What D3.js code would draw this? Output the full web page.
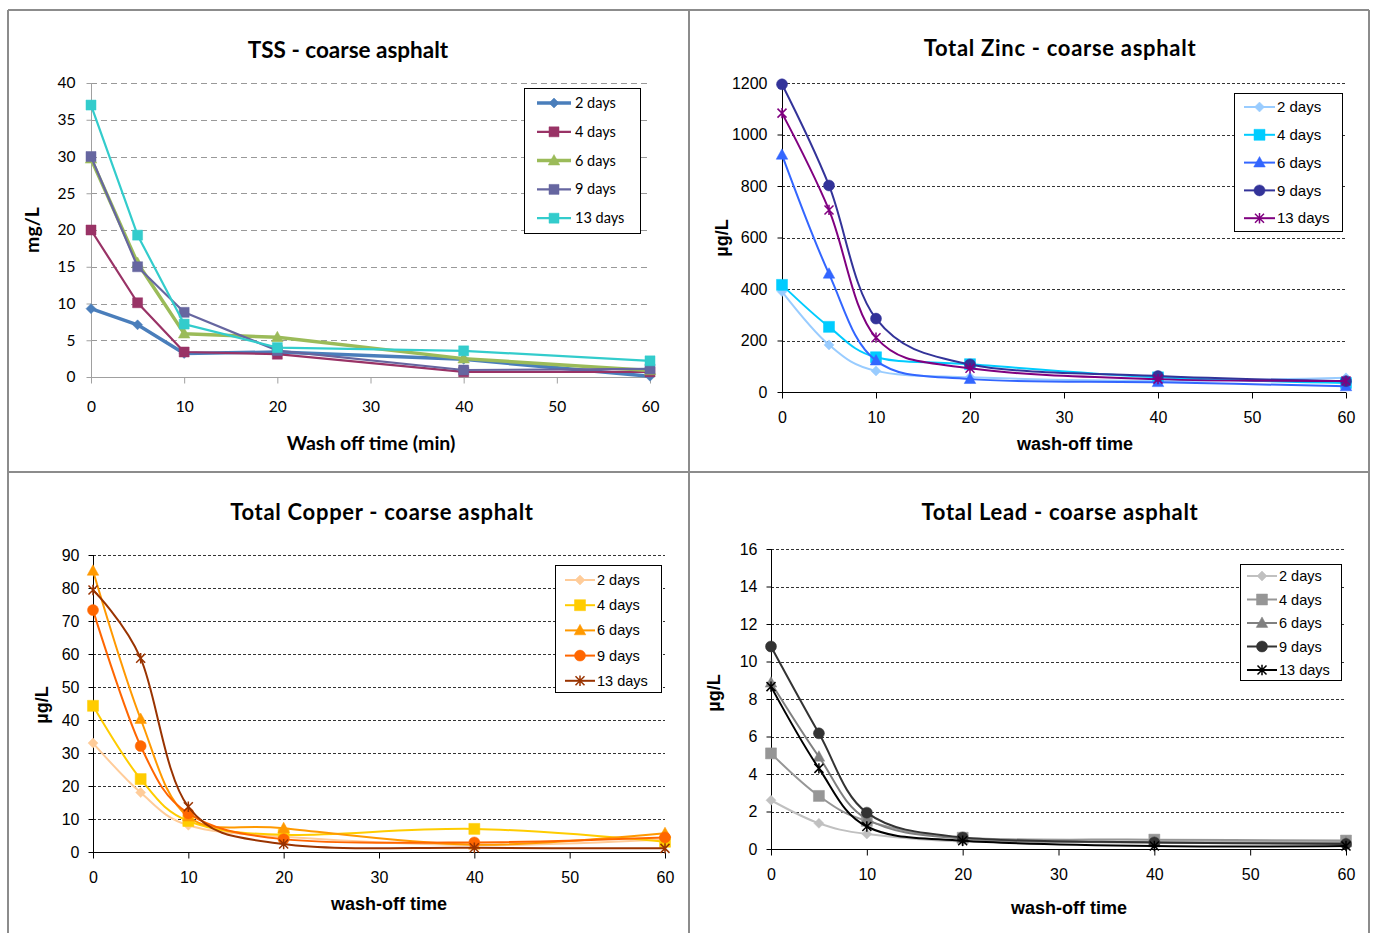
<!DOCTYPE html>
<html><head><meta charset="utf-8">
<script src="https://cdn.jsdelivr.net/npm/d3@7"></script>
<style>
html,body{margin:0;padding:0;background:#fff;}
svg{display:block;}
</style></head>
<body>
<svg id="chart" width="1375" height="933"></svg>
<script>
// ---------------- DATA ----------------
const xValues = [0, 5, 10, 20, 40, 60];
const seriesNames = ["2 days", "4 days", "6 days", "9 days", "13 days"];
const xTicks = [0, 10, 20, 30, 40, 50, 60];

const tssTicks = [0, 5, 10, 15, 20, 25, 30, 35, 40];
const tss2 = [9.3, 7.1, 3.2, 3.4, 2.4, 0.1];
const tss4 = [20, 10.1, 3.4, 3.1, 0.7, 0.7];
const tss6 = [29.7, 15.5, 5.9, 5.4, 2.5, 0.9];
const tss9 = [30, 15, 8.8, 3.6, 0.95, 1.1];
const tss13 = [37, 19.3, 7.2, 4.0, 3.56, 2.2];

const zincTicks = [0, 200, 400, 600, 800, 1000, 1200];
const zinc2 = [390, 183, 82, 57, 43, 55];
const zinc4 = [416, 253, 135, 108, 57, 35];
const zinc6 = [921, 459, 122, 50, 38, 22];
const zinc9 = [1195, 802, 285, 107, 62, 42];
const zinc13 = [1083, 707, 211, 92, 50, 43];

const copperTicks = [0, 10, 20, 30, 40, 50, 60, 70, 80, 90];
const copper2 = [33, 18, 8.1, 4.6, 2.1, 3.8];
const copper4 = [44.3, 22.1, 9.4, 5.2, 7.0, 3.1];
const copper6 = [85.2, 40.3, 10.7, 7.2, 2.2, 5.7];
const copper9 = [73.3, 32.1, 11.7, 3.9, 2.9, 4.4];
const copper13 = [79.4, 58.7, 13.7, 2.4, 1.3, 1.1];

const leadTicks = [0, 2, 4, 6, 8, 10, 12, 14, 16];
const lead2 = [2.6, 1.37, 0.8, 0.4, 0.4, 0.35];
const lead4 = [5.1, 2.83, 1.5, 0.6, 0.5, 0.45];
const lead6 = [8.87, 4.92, 1.6, 0.55, 0.35, 0.35];
const lead9 = [10.8, 6.17, 1.94, 0.62, 0.35, 0.27];
const lead13 = [8.66, 4.3, 1.2, 0.44, 0.16, 0.16];

// ---------------- STYLE ----------------
const svg = d3.select("#chart");
const titleFont = "Lato, 'Open Sans', sans-serif";

function markerPath(type, s) {
  switch (type) {
    case "diamond": return `M0,${-s}L${s},0L0,${s}L${-s},0Z`;
    case "square": return `M${-s},${-s}H${s}V${s}H${-s}Z`;
    case "triangle": return `M0,${-s * 1.1}L${s * 1.05},${s * 0.8}L${-s * 1.05},${s * 0.8}Z`;
    case "circle": return d3.symbol(d3.symbolCircle, Math.PI * s * s)();
    case "star": return `M${-s},${-s}L${s},${s}M${-s},${s}L${s},${-s}M0,${-s * 1.15}V${s * 1.15}`;
  }
}

const panels = [
  {
    title: "TSS - coarse asphalt", xTitle: "Wash off time (min)", yTitle: "mg/L",
    font: "Lato, 'Open Sans', sans-serif", titleSize: 22.5, titleSpacing: 0, tickSize: 15.5, axisTitleSize: 19.5,
    series: [tss2, tss4, tss6, tss9, tss13], yTicks: tssTicks, yMax: 40,
    xRange: [91, 650], yRange: [377, 83],
    titlePos: [348, 58], xTitlePos: [371, 450], yTitlePos: [32, 230],
    xTickY: 406, yTickX: 75,
    gridColor: "#999", gridDash: "6,4", axisColor: "#a0a0a0",
    colors: ["#4a7ebb", "#993366", "#9bbb59", "#6666a0", "#33cccc"],
    widths: [3.5, 2.2, 3.5, 2.2, 2.2],
    markers: ["diamond", "square", "triangle", "square", "square"],
    msize: [5, 5, 5.5, 5, 5],
    smooth: false,
    legend: { box: [524, 88, 116, 145], y0: 103, dy: 28.8, x1: 537, x2: 571, tx: 575, size: 14.5 }
  },
  {
    title: "Total Zinc - coarse asphalt", xTitle: "wash-off time", yTitle: "µg/L",
    font: "'Liberation Sans', Arial, sans-serif", titleSize: 22, titleSpacing: 0.7, tickSize: 16, axisTitleSize: 18,
    series: [zinc2, zinc4, zinc6, zinc9, zinc13], yTicks: zincTicks, yMax: 1200,
    xRange: [782, 1346], yRange: [392, 83],
    titlePos: [1060, 56], xTitlePos: [1075, 450], yTitlePos: [722, 238],
    xTickY: 417, yTickX: 767,
    gridColor: "#333", gridDash: "3,2", axisColor: "#000",
    colors: ["#99ccff", "#00ccff", "#3366ff", "#333399", "#800080"],
    widths: [2, 2, 2, 2, 2],
    markers: ["diamond", "square", "triangle", "circle", "star"],
    msize: [5, 5.5, 5.5, 5.5, 4.5],
    smooth: true,
    legend: { box: [1234, 93, 108, 138], y0: 107, dy: 27.8, x1: 1244, x2: 1275, tx: 1277, size: 15 }
  },
  {
    title: "Total Copper - coarse asphalt", xTitle: "wash-off time", yTitle: "µg/L",
    font: "'Liberation Sans', Arial, sans-serif", titleSize: 22, titleSpacing: 0.7, tickSize: 16, axisTitleSize: 18,
    series: [copper2, copper4, copper6, copper9, copper13], yTicks: copperTicks, yMax: 90,
    xRange: [93, 665], yRange: [852, 555],
    titlePos: [382, 520], xTitlePos: [389, 910], yTitlePos: [42, 705],
    xTickY: 877, yTickX: 79,
    gridColor: "#333", gridDash: "3,2", axisColor: "#000",
    colors: ["#ffcc99", "#ffcc00", "#ff9900", "#ff6600", "#993300"],
    widths: [2, 2, 2, 2, 2],
    markers: ["diamond", "square", "triangle", "circle", "star"],
    msize: [5, 5.5, 5.5, 5.5, 4.5],
    smooth: true,
    legend: { box: [555, 565, 106, 127], y0: 580, dy: 25.2, x1: 565, x2: 595, tx: 597, size: 14.5 }
  },
  {
    title: "Total Lead - coarse asphalt", xTitle: "wash-off time", yTitle: "µg/L",
    font: "'Liberation Sans', Arial, sans-serif", titleSize: 22, titleSpacing: 0.7, tickSize: 16, axisTitleSize: 18,
    series: [lead2, lead4, lead6, lead9, lead13], yTicks: leadTicks, yMax: 16,
    xRange: [771, 1346], yRange: [849, 549],
    titlePos: [1060, 520], xTitlePos: [1069, 914], yTitlePos: [714, 693],
    xTickY: 874, yTickX: 757,
    gridColor: "#333", gridDash: "3,2", axisColor: "#000",
    colors: ["#c0c0c0", "#969696", "#808080", "#333333", "#000000"],
    widths: [2, 2, 2, 2, 2],
    markers: ["diamond", "square", "triangle", "circle", "star"],
    msize: [5, 5.5, 5.5, 5.5, 4.5],
    smooth: true,
    legend: { box: [1240, 564, 101, 116], y0: 576, dy: 23.5, x1: 1247, x2: 1277, tx: 1279, size: 14.5 }
  }
];

// ---------------- FRAME ----------------
const frame = svg.append("g").attr("stroke", "#8c8c8c").attr("stroke-width", 2).attr("fill", "none");
frame.append("line").attr("x1", 8).attr("x2", 1369).attr("y1", 10).attr("y2", 10);
frame.append("line").attr("x1", 8).attr("x2", 8).attr("y1", 10).attr("y2", 933);
frame.append("line").attr("x1", 1369).attr("x2", 1369).attr("y1", 10).attr("y2", 933);
frame.append("line").attr("x1", 689).attr("x2", 689).attr("y1", 10).attr("y2", 933);
frame.append("line").attr("x1", 8).attr("x2", 1369).attr("y1", 472).attr("y2", 472);

// ---------------- PANELS ----------------
panels.forEach(p => {
  const g = svg.append("g").style("font-family", p.font);
  const x = d3.scaleLinear().domain([0, 60]).range(p.xRange);
  const y = d3.scaleLinear().domain([0, p.yMax]).range(p.yRange);

  // gridlines
  g.append("g").selectAll("line").data(p.yTicks.filter(t => t > 0)).join("line")
    .attr("x1", p.xRange[0]).attr("x2", p.xRange[1])
    .attr("y1", d => Math.round(y(d)) + 0.5).attr("y2", d => Math.round(y(d)) + 0.5)
    .attr("stroke", p.gridColor).attr("stroke-width", 1).attr("stroke-dasharray", p.gridDash);

  // y axis
  const yAxis = d3.axisLeft(y).tickValues(p.yTicks).tickSize(5).tickPadding(0).tickFormat(d3.format("d"));
  const ya = g.append("g").attr("transform", `translate(${p.xRange[0] + 0.5},0)`).call(yAxis);
  ya.select(".domain").attr("stroke", p.axisColor).attr("d", `M0,${p.yRange[0]}V${p.yRange[1]}`);
  ya.selectAll(".tick line").attr("stroke", p.axisColor);
  ya.selectAll(".tick text").attr("x", p.yTickX - p.xRange[0]).attr("text-anchor", "end")
    .attr("font-size", p.tickSize).attr("fill", "#000").style("font-family", p.font);

  // x axis
  const xAxis = d3.axisBottom(x).tickValues(xTicks).tickSize(6).tickFormat(d3.format("d"));
  const xa = g.append("g").attr("transform", `translate(0,${p.yRange[0] + 0.5})`).call(xAxis);
  xa.select(".domain").attr("stroke", p.axisColor).attr("d", `M${p.xRange[0]},0H${p.xRange[1]}`);
  xa.selectAll(".tick line").attr("stroke", p.axisColor);
  xa.selectAll(".tick text").attr("y", p.xTickY - p.yRange[0]).attr("dy", "0.35em")
    .attr("font-size", p.tickSize).attr("fill", "#000").style("font-family", p.font);

  // titles
  g.append("text").attr("x", p.titlePos[0]).attr("y", p.titlePos[1]).attr("text-anchor", "middle")
    .style("font-family", titleFont).style("letter-spacing", p.titleSpacing + "px")
    .attr("font-weight", "bold").attr("font-size", p.titleSize).text(p.title);
  g.append("text").attr("x", p.xTitlePos[0]).attr("y", p.xTitlePos[1]).attr("text-anchor", "middle")
    .attr("font-weight", "bold").attr("font-size", p.axisTitleSize).text(p.xTitle);
  g.append("text").attr("transform", `translate(${p.yTitlePos[0]},${p.yTitlePos[1]}) rotate(-90)`)
    .attr("text-anchor", "middle").attr("dy", "0.35em")
    .attr("font-weight", "bold").attr("font-size", p.axisTitleSize).text(p.yTitle);

  // lines
  const line = d3.line().x(d => x(d[0])).y(d => y(d[1]))
    .curve(p.smooth ? d3.curveCardinal.tension(0) : d3.curveLinear);
  const drawMarker = (sel, i) => {
    const c = p.colors[i], t = p.markers[i];
    sel.attr("d", markerPath(t, p.msize[i]))
      .attr("fill", t === "star" ? "none" : c)
      .attr("stroke", c).attr("stroke-width", t === "star" ? 1.5 : 0.5);
  };
  p.series.forEach((vals, i) => {
    const pts = xValues.map((xv, k) => [xv, vals[k]]);
    g.append("path").datum(pts).attr("d", line).attr("fill", "none")
      .attr("stroke", p.colors[i]).attr("stroke-width", p.widths[i]).attr("stroke-linejoin", "round");
    g.append("g").selectAll("path").data(pts).join("path")
      .attr("transform", d => `translate(${x(d[0])},${y(d[1])})`)
      .call(sel => drawMarker(sel, i));
  });

  // legend
  const L = p.legend;
  const lg = g.append("g");
  lg.append("rect").attr("x", L.box[0] + 0.5).attr("y", L.box[1] + 0.5).attr("width", L.box[2]).attr("height", L.box[3])
    .attr("fill", "#fff").attr("stroke", "#000").attr("stroke-width", 1);
  seriesNames.forEach((name, i) => {
    const yy = L.y0 + i * L.dy;
    lg.append("line").attr("x1", L.x1).attr("x2", L.x2).attr("y1", yy).attr("y2", yy)
      .attr("stroke", p.colors[i]).attr("stroke-width", p.widths[i]);
    lg.append("path").attr("transform", `translate(${(L.x1 + L.x2) / 2},${yy})`).call(sel => drawMarker(sel, i));
    lg.append("text").attr("x", L.tx).attr("y", yy).attr("dy", "0.35em").attr("font-size", L.size).text(name);
  });
});
</script>
</body></html>
